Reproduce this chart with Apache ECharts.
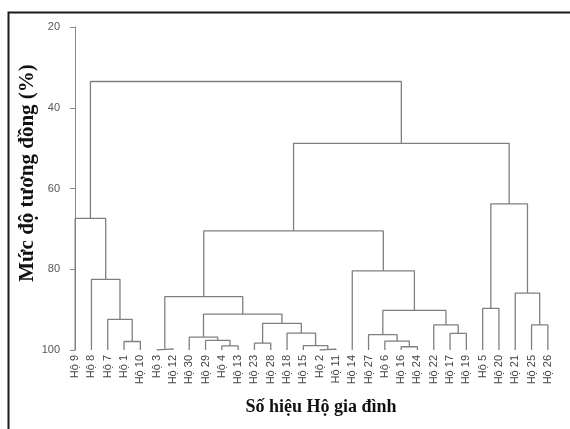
<!DOCTYPE html>
<html>
<head>
<meta charset="utf-8">
<script src="https://cdn.jsdelivr.net/npm/echarts@6/dist/echarts.min.js"></script>
<style>
html,body{margin:0;padding:0;background:#fff;}
#chart{width:570px;height:429px;}
</style>
</head>
<body>
<div id="chart"></div>
<script>
// Leaf order along the x axis (dendrogram order)
const leaves = ['Hộ 9','Hộ 8','Hộ 7','Hộ 1','Hộ 10','Hộ 3','Hộ 12','Hộ 30','Hộ 29','Hộ 4','Hộ 13','Hộ 23','Hộ 28','Hộ 18','Hộ 15','Hộ 2','Hộ 11','Hộ 14','Hộ 27','Hộ 6','Hộ 16','Hộ 24','Hộ 22','Hộ 17','Hộ 19','Hộ 5','Hộ 20','Hộ 21','Hộ 25','Hộ 26'];
// Merges: cluster cN = mergeLeft[N-1] + mergeRight[N-1] at similarity mergeHeight[N-1]
const mergeLeft  = ['Hộ 1','Hộ 7','Hộ 8','Hộ 9','Hộ 3','Hộ 4','Hộ 29','Hộ 30','Hộ 23','Hộ 2','Hộ 15','Hộ 18','c9','c8','c5','Hộ 16','Hộ 6','Hộ 27','Hộ 17','Hộ 22','c18','Hộ 14','c15','Hộ 5','Hộ 25','Hộ 21','c24','c23','c4'];
const mergeRight = ['Hộ 10','c1','c2','c3','Hộ 12','Hộ 13','c6','c7','Hộ 28','Hộ 11','c10','c11','c12','c13','c14','Hộ 24','c16','c17','Hộ 19','c19','c20','c21','c22','Hộ 20','Hộ 26','c25','c26','c27','c28'];
const mergeHeight = [97.9, 92.4, 82.5, 67.4, 99.7, 99.0, 97.6, 96.8, 98.3, 99.8, 98.9, 95.8, 93.4, 91.1, 86.8, 99.2, 97.8, 96.2, 95.9, 93.8, 90.2, 80.4, 70.5, 89.7, 93.8, 85.9, 63.8, 48.8, 33.5];
const yTicks = [20, 40, 60, 80, 100];
const xTitle = 'Số hiệu Hộ gia đình';
const yTitle = 'Mức độ tương đồng (%)';

const pos = {}, hgt = {};
leaves.forEach((l, i) => { pos[l] = i; hgt[l] = 100; });
const series = [];
mergeHeight.forEach((h, i) => {
  const a = mergeLeft[i], b = mergeRight[i], id = 'c' + (i + 1);
  pos[id] = (pos[a] + pos[b]) / 2; hgt[id] = h;
  series.push({
    type: 'line', xAxisIndex: 1, yAxisIndex: 0, symbol: 'none', silent: true, animation: false,
    lineStyle: { color: '#7f7f7f', width: 1.3 },
    data: [[pos[a], hgt[a]], [pos[a], h], [pos[b], h], [pos[b], hgt[b]]]
  });
});

const serif = 'Liberation Serif, Times New Roman, serif';
const chart = echarts.init(document.getElementById('chart'), null, { renderer: 'canvas' });
chart.setOption({
  animation: false,
  backgroundColor: '#fff',
  grid: { left: 67, right: 14, top: 27, bottom: 79 },
  graphic: [{
    type: 'rect', left: 6, top: 10, shape: { width: 620, height: 418 },
    style: { fill: 'none', stroke: '#1a1a1a', lineWidth: 2 }, silent: true, z: -1
  }, {
    type: 'text', x: 28, y: 173, rotation: Math.PI / 2, silent: true,
    style: { text: yTitle, font: 'bold 21px ' + serif, fill: '#111', align: 'center', verticalAlign: 'middle' }
  }, {
    type: 'text', x: 321, y: 407, silent: true,
    style: { text: xTitle, font: 'bold 18px ' + serif, fill: '#111', align: 'center', verticalAlign: 'middle' }
  }],
  xAxis: [{
    type: 'category', data: leaves, boundaryGap: true,
    axisLine: { show: false }, axisTick: { show: false },
    axisLabel: { rotate: 90, margin: 5, color: '#444', fontFamily: 'Arial, Liberation Sans', fontSize: 11, interval: 0 }
  }, {
    type: 'value', min: -0.5, max: leaves.length - 0.5, show: false
  }],
  yAxis: [{
    type: 'value', inverse: true, min: yTicks[0], max: yTicks[yTicks.length - 1], interval: 20,
    splitLine: { show: false },
    axisLine: { show: true, lineStyle: { color: '#888', width: 1 } },
    axisTick: { show: true, length: 5, lineStyle: { color: '#888' } },
    axisLabel: { color: '#555', fontFamily: 'Arial, Liberation Sans', fontSize: 11, margin: 7 }
  }],
  series: series
});
</script>
</body>
</html>
